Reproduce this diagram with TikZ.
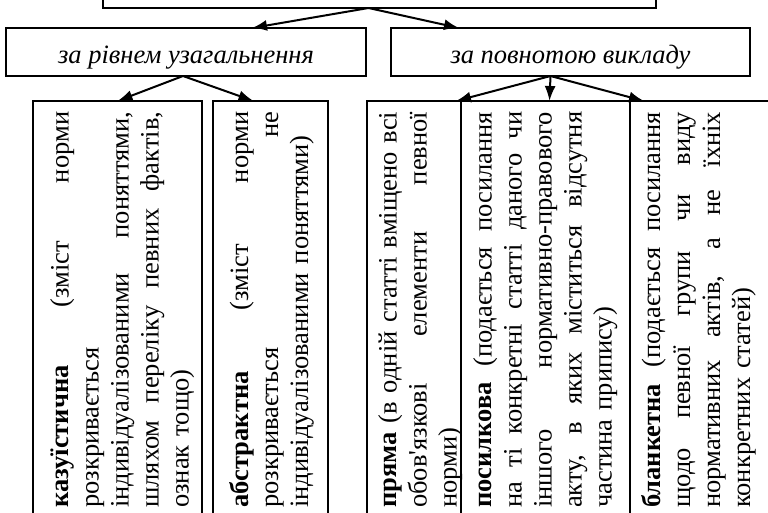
\documentclass[tikz,border=0pt]{standalone}
\usepackage{fontspec}
\setmainfont{Liberation Serif}
\newfontfamily\apf{Liberation Serif}[Ligatures=ResetAll]
\usetikzlibrary{arrows.meta}
\newlength{\LW}\setlength{\LW}{396pt}
\newcommand{\jl}[1]{{\spaceskip=0pt\xspaceskip=0pt\makebox[\LW][s]{#1}}}
\newcommand{\apo}{{\apf'}}
\begin{document}
\begin{tikzpicture}[x=1pt,y=-1pt,
  box/.style={draw, line width=1.4pt, anchor=north west, inner sep=0pt, outer sep=0pt},
  arr/.style={line width=2pt, -{Latex[length=15pt,width=11pt]}},
  vt/.style={rotate=90, anchor=north west, inner sep=0pt, text width=\LW, align=left, font=\fontsize{26.5}{30}\selectfont},
  lvl/.style={font=\fontsize{26.5}{30}\selectfont\itshape, anchor=base, inner sep=0pt}]
\useasboundingbox (0,0) rectangle (768,512);
\clip (0,0) rectangle (768,512);
% boxes
\node[box, anchor=south west, minimum width=553pt, minimum height=40pt] (top) at (103,8) {};
\node[box, minimum width=360pt, minimum height=48pt] (l2a) at (6,28) {};
\node[box, minimum width=359pt, minimum height=48pt] (l2b) at (391,28) {};
\node[lvl] (t2a) at ([yshift=-11pt]l2a.center) {за рівнем узагальнення};
\node[lvl] (t2b) at ([yshift=-11pt]l2b.center) {за повнотою викладу};
\node[box, minimum width=169pt, minimum height=430pt] (b1) at (33,101) {};
\node[box, minimum width=115pt, minimum height=430pt] (b2) at (213,101) {};
\node[box, minimum width=94pt, minimum height=430pt] (b3) at (367,101) {};
\node[box, minimum width=169pt, minimum height=430pt] (b4) at (461,101) {};
\node[box, minimum width=170pt, minimum height=430pt] (b5) at (630,101) {};
% texts
\node[vt] (x1) at (50,508) {\jl{\textbf{казуїстична} (зміст норми}\\
розкривається\\
\jl{індивідуалізованими поняттями,}\\
\jl{шляхом переліку певних фактів,}\\
ознак тощо)};
\node[vt] (x2) at (229,508) {\jl{\textbf{абстрактна} (зміст норми}\\
\jl{розкривається не}\\
індивідуалізованими поняттями)};
\node[vt] (x3) at (378,508) {\jl{\textbf{пряма} (в одній статті вміщено всі}\\
\jl{обов\apo язкові елементи певної}\\
норми)};
\node[vt] (x4) at (473,508) {\jl{\textbf{посилкова} (подається посилання}\\
\jl{на ті конкретні статті даного чи}\\
\jl{іншого нормативно-правового}\\
\jl{акту, в яких міститься відсутня}\\
частина припису)};
\node[vt] (x5) at (641,508) {\jl{\textbf{бланкетна} (подається посилання}\\
\jl{щодо певної групи чи виду}\\
\jl{нормативних актів, а не їхніх}\\
конкретних статей)};
% arrows
\draw[arr] ([xshift=-11pt]top.south) -- ([xshift=66pt]l2a.north);
\draw[arr] ([xshift=-11pt]top.south) -- ([xshift=68pt]l2b.north west);
\draw[arr] ([xshift=-3pt]l2a.south) -- (b1.north);
\draw[arr] ([xshift=-3pt]l2a.south) -- ([xshift=-17pt]b2.north);
\draw[arr] ([xshift=-20pt]l2b.south) -- ([xshift=-5pt]b3.north east);
\draw[arr] ([xshift=-20pt]l2b.south) -- ([xshift=4pt]b4.north);
\draw[arr] ([xshift=-20pt]l2b.south) -- ([xshift=14pt]b5.north west);
\end{tikzpicture}
\end{document}
